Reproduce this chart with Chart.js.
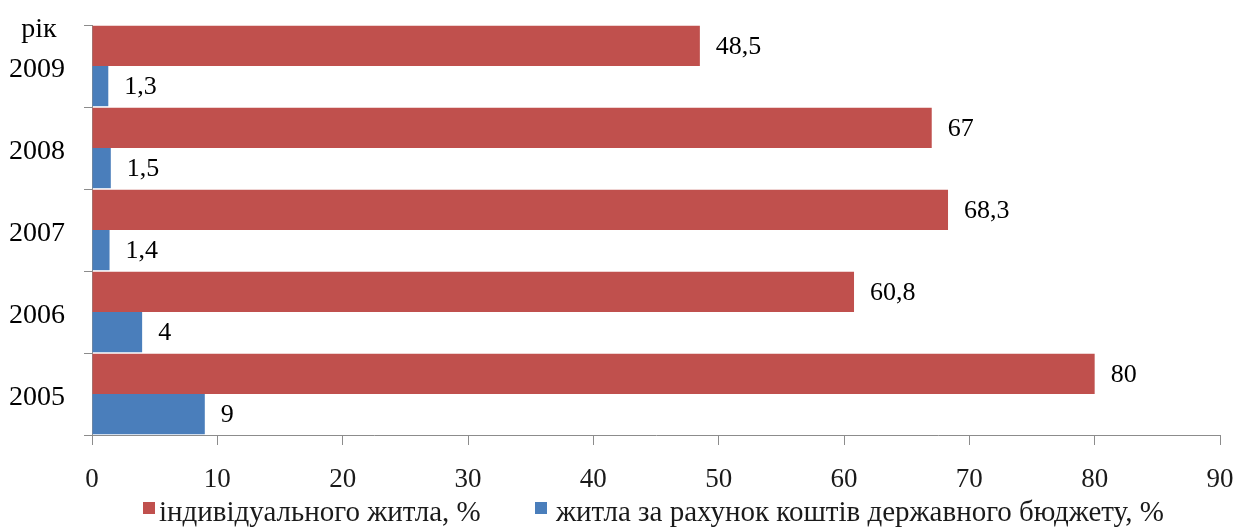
<!DOCTYPE html>
<html>
<head>
<meta charset="utf-8">
<script src="https://cdn.jsdelivr.net/npm/chart.js@4"></script>
<style>
html,body{margin:0;padding:0;background:#fff;}
#wrap{position:relative;width:1244px;height:531px;}
</style>
</head>
<body>
<div id="wrap"><canvas id="c" width="1244" height="531"></canvas></div>
<script>
const years = ['2009', '2008', '2007', '2006', '2005'];
const individualHousing = [48.5, 67, 68.3, 60.8, 80];
const stateBudgetHousing = [1.3, 1.5, 1.4, 4, 9];
const seriesNames = ['індивідуального житла, %', 'житла за рахунок коштів державного бюджету, %'];
const xTicks = [0, 10, 20, 30, 40, 50, 60, 70, 80, 90];
const axisTitle = 'рік';

const FONT = '"Liberation Serif", "Times New Roman", serif';
const RED = '#C0504D';
const BLUE = '#4A7EBB';

const labelPlugin = {
  id: 'valueLabels',
  afterDatasetsDraw(chart) {
    const ctx = chart.ctx;
    ctx.save();
    ctx.font = '26px ' + FONT;
    ctx.fillStyle = '#000';
    ctx.textBaseline = 'middle';
    ctx.textAlign = 'left';
    chart.data.datasets.forEach((ds, i) => {
      const meta = chart.getDatasetMeta(i);
      meta.data.forEach((bar, j) => {
        const v = ds.data[j];
        const txt = String(v).replace('.', ',');
        ctx.fillText(txt, bar.x + 16, bar.y + 1);
      });
    });
    // axis title
    ctx.font = '28px ' + FONT;
    ctx.textAlign = 'center';
    ctx.textBaseline = 'alphabetic';
    ctx.fillText(axisTitle, 39, 37);
    // legend
    ctx.font = '29px ' + FONT;
    const items = [
      {c: RED, t: seriesNames[0], x: 143, tx: 159},
      {c: BLUE, t: seriesNames[1], x: 535, tx: 556}
    ];
    items.forEach(it => {
      ctx.fillStyle = it.c;
      ctx.fillRect(it.x, 502, 12, 12);
      ctx.fillStyle = '#1a1a1a';
      ctx.textAlign = 'left';
      ctx.fillText(it.t, it.tx, 521);
    });
    ctx.restore();
  }
};

new Chart(document.getElementById('c'), {
  type: 'bar',
  data: {
    labels: years,
    datasets: [
      {label: seriesNames[0], data: individualHousing, backgroundColor: RED, barPercentage: 1.0, categoryPercentage: 0.98},
      {label: seriesNames[1], data: stateBudgetHousing, backgroundColor: BLUE, barPercentage: 1.0, categoryPercentage: 0.98}
    ]
  },
  options: {
    indexAxis: 'y',
    responsive: false,
    animation: false,
    layout: {padding: {top: 25, right: 24, left: 0, bottom: 0}},
    plugins: {legend: {display: false}, tooltip: {enabled: false}},
    scales: {
      x: {
        min: 0, max: 90,
        afterBuildTicks(scale) { scale.ticks = xTicks.map(v => ({value: v})); },
        afterFit(scale) { scale.height = 96; scale.paddingLeft = 0; scale.paddingRight = 0; },
        border: {display: true, color: '#8c8c8c', width: 1},
        grid: {drawOnChartArea: false, tickLength: 10, color: '#8c8c8c'},
        ticks: {color: '#1a1a1a', font: {family: FONT, size: 27}, padding: 19, maxRotation: 0}
      },
      y: {
        afterFit(scale) { scale.width = 92; scale.paddingTop = 0; scale.paddingBottom = 0; },
        border: {display: true, color: '#8c8c8c', width: 1},
        grid: {drawOnChartArea: false, tickLength: 8, color: '#8c8c8c', offset: true},
        ticks: {color: '#000', font: {family: FONT, size: 28}, padding: 19, labelOffset: 4}
      }
    }
  },
  plugins: [labelPlugin]
});
</script>
</body>
</html>
